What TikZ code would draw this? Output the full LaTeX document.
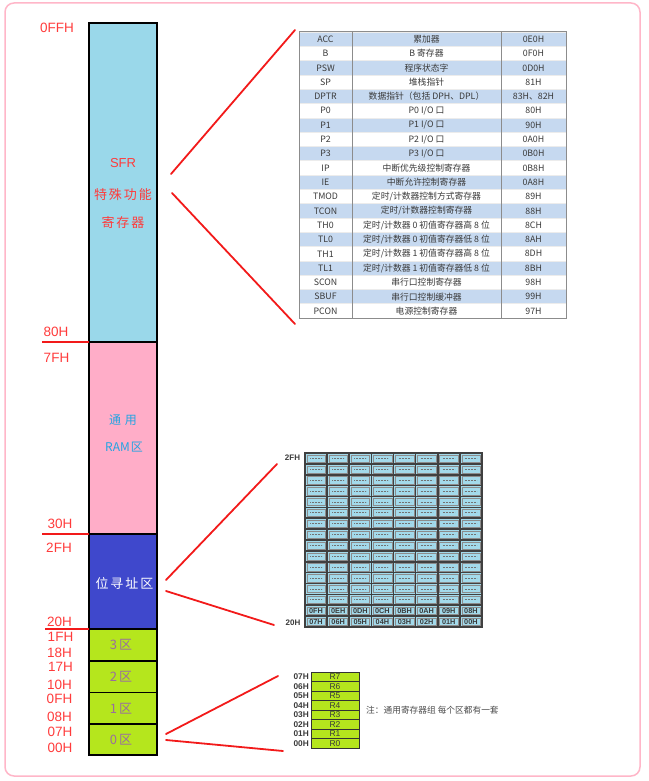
\documentclass[tikz,border=0pt]{standalone}
\usepackage{fontspec}
\setmainfont{Noto Sans CJK SC}
\newfontfamily\latf{Liberation Sans}
\definecolor{lblred}{HTML}{FF3B3B}
\definecolor{conred}{HTML}{F21A1A}
\definecolor{sfrblue}{HTML}{9AD8EA}
\definecolor{rampink}{HTML}{FFADC8}
\definecolor{bitblue}{HTML}{3F48CC}
\definecolor{bankgreen}{HTML}{B5E61D}
\definecolor{ramtxt}{HTML}{22A4E2}
\definecolor{banktxt}{HTML}{9A6CA0}
\definecolor{tblblue}{HTML}{C6D9F0}
\definecolor{tblline}{HTML}{8C8C8C}
\definecolor{tbltext}{HTML}{3A3A3A}
\definecolor{cellblue}{HTML}{A3DAEB}
\definecolor{framepink}{HTML}{FFB6C8}
\tikzset{
  addr/.style={text=lblred,font=\latf\fontsize{13.5}{13.5}\selectfont,inner sep=0pt},
  sect/.style={draw=black,line width=1.6pt},
  conn/.style={draw=conred,line width=1.8pt,line cap=round},
  tbltxt/.style={text=tbltext,font=\fontsize{8.8}{9}\selectfont,inner sep=0pt},
  gtxt/.style={text=tbltext,font=\latf\bfseries\fontsize{7.3}{8}\selectfont,inner sep=0pt},
  rtxt/.style={text=tbltext,font=\latf\fontsize{8.5}{8}\selectfont,inner sep=0pt},
}
\newcommand\sfrrow[4]{%
  \pgfmathsetmacro\ytop{32+#1*14.3}%
  \pgfmathsetmacro\ymid{\ytop+7.3}%
  \ifodd#1\relax\def\rowfill{white}\else\def\rowfill{tblblue}\fi
  \fill[\rowfill] (299,\ytop) rectangle (566,\ytop+14.3);
  \draw[white!85!gray,line width=0.5pt] (299,\ytop) -- (566,\ytop);
  \node[tbltxt] (sa#1) at (325.5,\ymid) {#2};
  \node[tbltxt] (sb#1) at (426.5,\ymid) {#3};
  \node[tbltxt] (sc#1) at (533.5,\ymid) {#4};
}
\begin{document}
\begin{tikzpicture}[x=1pt,y=-1pt]
\useasboundingbox (0,0) rectangle (648,781);
% outer frame
\draw[framepink,line width=1.5pt,rounded corners=9pt] (5,3) rectangle (640,776);

% memory column
\path[sect,fill=sfrblue] (89,23) rectangle (157,342);
\path[sect,fill=rampink] (89,342) rectangle (157,534);
\path[sect,fill=bitblue] (89,534) rectangle (157,628.5);
\path[sect,fill=bankgreen] (89,629.5) rectangle (157,661);
\path[sect,fill=bankgreen] (89,661) rectangle (157,692.5);
\path[sect,fill=bankgreen] (89,692.5) rectangle (157,724);
\path[sect,fill=bankgreen] (89,724) rectangle (157,755);

\node[text=lblred,font=\latf\fontsize{13}{13}\selectfont] (sfr1) at (123,163) {SFR};
\node[text=lblred,font=\fontsize{13}{13}\selectfont] (sfr2) at (123,195) {特\hspace{2pt}殊\hspace{2pt}功\hspace{2pt}能};
\node[text=lblred,font=\fontsize{13}{13}\selectfont] (sfr3) at (123,223) {寄\hspace{2pt}存\hspace{2pt}器};
\node[text=ramtxt,font=\fontsize{12}{12}\selectfont] (ram1) at (123,420) {通\hspace{4pt}用};
\node[text=ramtxt,font=\fontsize{12}{12}\selectfont] (ram2) at (124,447) {RAM\hspace{1pt}区};
\node[text=white,font=\fontsize{13}{13}\selectfont] (bit1) at (124.5,583) {位\hspace{2pt}寻\hspace{2pt}址\hspace{2pt}区};
\node[text=banktxt,font=\fontsize{13}{13}\selectfont] (bk3) at (121,645) {3\hspace{2pt}区};
\node[text=banktxt,font=\fontsize{13}{13}\selectfont] (bk2) at (121,677) {2\hspace{2pt}区};
\node[text=banktxt,font=\fontsize{13}{13}\selectfont] (bk1) at (121,709) {1\hspace{2pt}区};
\node[text=banktxt,font=\fontsize{13}{13}\selectfont] (bk0) at (121,740) {0\hspace{2pt}区};

% address labels
\node[addr] (a0ffh) at (57,28) {0FFH};
\node[addr] (a80h) at (56,332) {80H};
\node[addr] (a7fh) at (56.5,358) {7FH};
\node[addr] (a30h) at (60,524) {30H};
\node[addr] (a2fh) at (59,548) {2FH};
\node[addr] (a20h) at (59.5,622) {20H};
\node[addr] (a1fh) at (60.5,637) {1FH};
\node[addr] (a18h) at (59.5,653) {18H};
\node[addr] (a17h) at (60.5,667) {17H};
\node[addr] (a10h) at (59.5,685) {10H};
\node[addr] (a0fh) at (59.5,699) {0FH};
\node[addr] (a08h) at (59.5,717) {08H};
\node[addr] (a07h) at (60,732) {07H};
\node[addr] (a00h) at (60,748) {00H};
\coordinate (u80a) at (42,342); \coordinate (u80b) at (89,342);
\coordinate (u30a) at (42,534); \coordinate (u30b) at (89,534);
\coordinate (u20a) at (45,629); \coordinate (u20b) at (89,629);
\draw[conred,line width=1.4pt] (u80a) -- (u80b);
\draw[conred,line width=1.4pt] (u30a) -- (u30b);
\draw[conred,line width=1.4pt] (u20a) -- (u20b);

% SFR table
\sfrrow{0}{ACC}{累加器}{0E0H}
\sfrrow{1}{B}{B 寄存器}{0F0H}
\sfrrow{2}{PSW}{程序状态字}{0D0H}
\sfrrow{3}{SP}{堆栈指针}{81H}
\sfrrow{4}{DPTR}{数据指针（包括 DPH、DPL）}{83H、82H}
\sfrrow{5}{P0}{P0 I/O 口}{80H}
\sfrrow{6}{P1}{P1 I/O 口}{90H}
\sfrrow{7}{P2}{P2 I/O 口}{0A0H}
\sfrrow{8}{P3}{P3 I/O 口}{0B0H}
\sfrrow{9}{IP}{中断优先级控制寄存器}{0B8H}
\sfrrow{10}{IE}{中断允许控制寄存器}{0A8H}
\sfrrow{11}{TMOD}{定时/计数器控制方式寄存器}{89H}
\sfrrow{12}{TCON}{定时/计数器控制寄存器}{88H}
\sfrrow{13}{TH0}{定时/计数器 0 初值寄存器高 8 位}{8CH}
\sfrrow{14}{TL0}{定时/计数器 0 初值寄存器低 8 位}{8AH}
\sfrrow{15}{TH1}{定时/计数器 1 初值寄存器高 8 位}{8DH}
\sfrrow{16}{TL1}{定时/计数器 1 初值寄存器低 8 位}{8BH}
\sfrrow{17}{SCON}{串行口控制寄存器}{98H}
\sfrrow{18}{SBUF}{串行口控制缓冲器}{99H}
\sfrrow{19}{PCON}{电源控制寄存器}{97H}
\draw[tblline,line width=1pt] (299,32) rectangle (566,318);
\draw[tblline,line width=1pt] (352,32) -- (352,318);
\draw[tblline,line width=1pt] (501,32) -- (501,318);

% bit-addressable grid
\fill[black!75] (304,452) rectangle (483,628);
\foreach \r in {0,...,15}{
  \foreach \c in {0,...,7}{
    \pgfmathsetmacro\gx{305+\c*22.125}
    \pgfmathsetmacro\gy{453+\r*10.875}
    \fill[cellblue] (\gx+0.8,\gy+0.8) rectangle (\gx+21.3,\gy+10.1);
    \draw[black!45,line width=0.35pt] (\gx+1.8,\gy+1.8) rectangle (\gx+20.3,\gy+9.1);
  }
}
\foreach \r in {0,...,13}{
  \foreach \c in {0,...,7}{
    \pgfmathsetmacro\gx{305+\c*22.125}
    \pgfmathsetmacro\gy{453+\r*10.875+5.4}
    \draw[black!55,line width=0.6pt,dash pattern=on 0.9pt off 0.6pt] (\gx+5,\gy) -- (\gx+17,\gy);
  }
}
\foreach \t [count=\c from 0] in {0FH,0EH,0DH,0CH,0BH,0AH,09H,08H}{
  \node[gtxt] (gh\c) at (305+\c*22.125+11.06,453+14*10.875+5.45) {\t};
}
\foreach \t [count=\c from 0] in {07H,06H,05H,04H,03H,02H,01H,00H}{
  \node[gtxt] (gl\c) at (305+\c*22.125+11.06,453+15*10.875+5.45) {\t};
}
\node[gtxt,font=\latf\bfseries\fontsize{8}{8}\selectfont] (g2fh) at (292.5,457.5) {2FH};
\node[gtxt,font=\latf\bfseries\fontsize{8}{8}\selectfont] (g20h) at (293,623) {20H};

% register bank
\foreach \t [count=\i from 0] in {R7,R6,R5,R4,R3,R2,R1,R0}{
  \pgfmathsetmacro\ry{672+\i*9.5}
  \draw[fill=bankgreen,draw=black!80,line width=0.9pt] (311,\ry) rectangle (359,\ry+9.5);
  \node[rtxt] (rg\i) at (335,\ry+4.9) {\t};
}
\foreach \t [count=\i from 0] in {07H,06H,05H,04H,03H,02H,01H,00H}{
  \node[gtxt,font=\latf\bfseries\fontsize{8.3}{8}\selectfont,anchor=east] (rl\i) at (309,672+\i*9.5+4.9) {\t};
}
\node[text=black!70,font=\fontsize{8.7}{9}\selectfont,anchor=west,inner sep=0pt] (note) at (366,710) {注：通用寄存器组 每个区都有一套};

% connectors
\coordinate (sfrA) at (171,174); \coordinate (tblTL) at (295,30);
\coordinate (sfrB) at (172,193); \coordinate (tblBL) at (295,324);
\coordinate (bitA) at (166,580); \coordinate (gridT) at (277,464);
\coordinate (bitB) at (166,591); \coordinate (gridB) at (274,625);
\coordinate (regA) at (166,734); \coordinate (regT) at (278,676);
\coordinate (regB) at (166,740); \coordinate (regE) at (283,751);
\draw[conn] (sfrA) -- (tblTL);
\draw[conn] (sfrB) -- (tblBL);
\draw[conn] (bitA) -- (gridT);
\draw[conn] (bitB) -- (gridB);
\draw[conn] (regA) -- (regT);
\draw[conn] (regB) -- (regE);
\end{tikzpicture}
\end{document}
